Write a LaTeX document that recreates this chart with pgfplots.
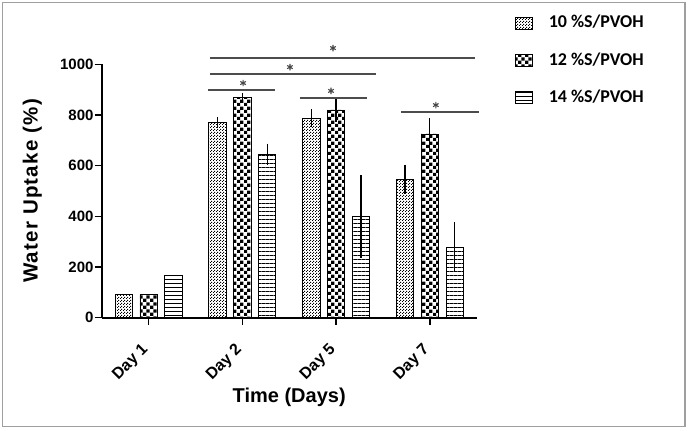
\documentclass[border=0pt]{standalone}
\usepackage{fontspec}
\setmainfont{Liberation Sans}
\newfontfamily\calfont{Carlito}
\newfontfamily\ylabfont{Liberation Sans}[LetterSpace=6]
\usepackage{pgfplots}
\pgfplotsset{compat=1.18}
\usetikzlibrary{patterns.meta}

\tikzdeclarepattern{
  name=finecheck, type=uncolored,
  bounding box={(0pt,0pt) and (3pt,3pt)},
  tile size={(3pt,3pt)},
  code={\fill (0pt,0pt) rectangle (1.2pt,1.2pt); \fill (1.5pt,1.5pt) rectangle (2.7pt,2.7pt);}
}
\tikzdeclarepattern{
  name=bigcheck, type=uncolored,
  bounding box={(0pt,0pt) and (7.2pt,7.2pt)},
  tile size={(7.2pt,7.2pt)},
  code={\fill (0pt,0pt) rectangle (3.6pt,3.6pt); \fill (3.6pt,3.6pt) rectangle (7.2pt,7.2pt);}
}
\tikzdeclarepattern{
  name=hlines, type=uncolored,
  bounding box={(0pt,0pt) and (4.3pt,4.3pt)},
  tile size={(4.3pt,4.3pt)},
  code={\fill (0pt,0pt) rectangle (4.3pt,0.9pt);}
}

% bars plotted at their own x positions (group centre 0,1,2,3 for Day 1, 2, 5, 7)
% Day 1 (no error bars)
\pgfplotstableread{
x y
-0.265 92
}\tenA
\pgfplotstableread{
x y
0 92
}\twelveA
\pgfplotstableread{
x y
0.265 168
}\fourteenA
% Days 2, 5, 7 (mean and error)
\pgfplotstableread{
x y e
0.735 770 10
1.735 787 26
2.735 546 48
}\tenS
\pgfplotstableread{
x y e
1 868 10
2 820 37
3 725 51
}\twelveS
\pgfplotstableread{
x y e
1.265 645 32
2.265 399 153
3.265 278 88
}\fourteenS

\begin{document}
\begin{tikzpicture}
\useasboundingbox (0pt,0pt) rectangle (688pt,431pt);
\draw[gray!75, line width=1.5pt] (2.5pt,4.5pt) rectangle (685pt,428.5pt);
\begin{axis}[
  at={(101.7pt,113.3pt)}, anchor=south west,
  scale only axis, width=375pt, height=253.4pt,
  xmin=-0.5, xmax=3.5, ymin=0, ymax=1000,
  axis lines=left,
  axis line style={-, line width=2pt, black},
  tick style={line width=1.5pt, black},
  major tick length=7pt,
  tick align=outside,
  xtick={0,1,2,3},
  xticklabels={Day 1, Day 2, Day 5, Day 7},
  ytick={0,200,400,600,800,1000},
  /pgf/number format/assume math mode=true,
  /pgf/number format/set thousands separator={},
  yticklabel style={font=\bfseries\fontsize{15}{15}\selectfont, inner sep=1pt},
  xticklabel style={yshift=-22pt, xshift=-2pt, rotate=45, anchor=east, font=\bfseries\fontsize{16}{16}\selectfont, inner sep=1pt},
  xlabel={Time (Days)},
  xlabel style={font=\bfseries\fontsize{20}{22}\selectfont, at={(axis description cs:0.5,-0.313)}, anchor=center},
  ylabel={Water Uptake (\%)},
  ylabel style={font=\ylabfont\bfseries\fontsize{20.5}{22}\selectfont, at={(axis description cs:-0.185,0.5)}, anchor=center},
  clip=false,
  legend style={at={(axis description cs:1.094,1.21)}, anchor=north west, draw=none, fill=none,
    font=\calfont\bfseries\fontsize{18}{18}\selectfont, row sep=19pt,
    /tikz/every odd column/.append style={column sep=14pt}},
  legend cell align=left,
  legend image code/.code={\draw[#1, line width=0.6pt] (0pt,-7pt) rectangle (17pt,5pt);},
  barA/.style={ybar, bar width=0.185, bar shift=0, draw=black, line width=0.8pt, pattern color=black},
  errstyle/.style={error bars/y dir=both, error bars/y explicit,
    error bars/error bar style={line width=1.2pt, black},
    error bars/error mark options={line width=1.3pt, black, mark size=2.6pt}},
]
\addplot[barA, errstyle, pattern={finecheck}] table[x=x, y=y, y error=e] {\tenS};
\addlegendentry{10 \%S/PVOH}
\addplot[barA, errstyle, pattern={bigcheck}] table[x=x, y=y, y error=e] {\twelveS};
\addlegendentry{12 \%S/PVOH}
\addplot[barA, errstyle, pattern={hlines}] table[x=x, y=y, y error=e] {\fourteenS};
\addlegendentry{14 \%S/PVOH}
\addplot[barA, forget plot, pattern={finecheck}] table[x=x, y=y] {\tenA};
\addplot[barA, forget plot, pattern={bigcheck}] table[x=x, y=y] {\twelveA};
\addplot[barA, forget plot, pattern={hlines}] table[x=x, y=y] {\fourteenA};
% significance lines
\addplot[forget plot, no marks, line width=1.8pt, color=gray!60!black] coordinates {(0.657,1026) (3.479,1026)};
\addplot[forget plot, no marks, line width=1.8pt, color=gray!60!black] coordinates {(0.657,962) (2.425,962)};
\addplot[forget plot, no marks, line width=1.8pt, color=gray!60!black] coordinates {(0.636,899) (1.349,899)};
\addplot[forget plot, no marks, line width=1.8pt, color=gray!60!black] coordinates {(1.615,866) (2.329,866)};
\addplot[forget plot, no marks, line width=1.8pt, color=gray!60!black] coordinates {(2.69,813) (3.52,813)};
\addplot[forget plot, only marks, mark=asterisk, mark size=3.2pt, line width=1.1pt, color=gray!55!black]
  coordinates {(1.967,1064) (1.508,989) (1.008,926) (1.946,895) (3.064,839)};
\end{axis}
\end{tikzpicture}
\end{document}
